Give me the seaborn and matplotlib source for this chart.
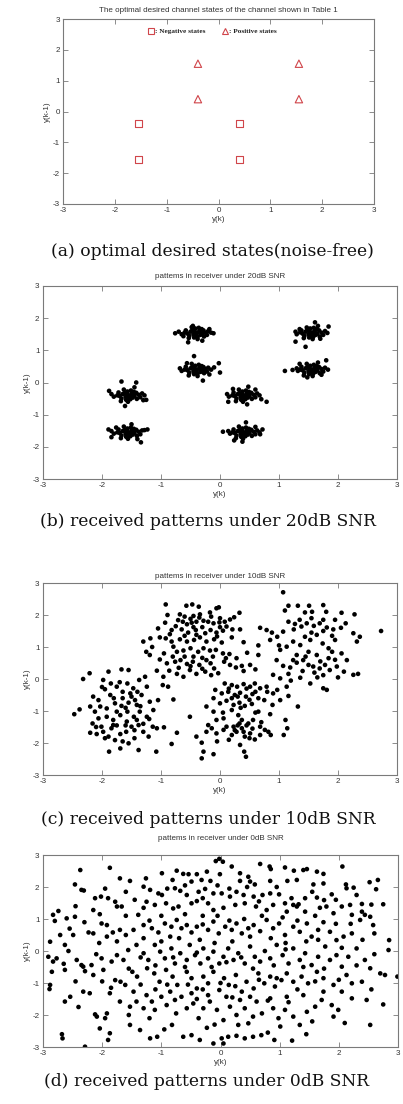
import matplotlib
matplotlib.use("Agg")
import matplotlib.pyplot as plt
import seaborn as sns
import pandas as pd
from matplotlib.lines import Line2D

# ---------------- data ----------------
NEG_STATES_X = [-1.55, -1.55, 0.40, 0.40]
NEG_STATES_Y = [-0.40, -1.55, -0.40, -1.55]
POS_STATES_X = [-0.40, -0.40, 1.55, 1.55]
POS_STATES_Y = [1.55, 0.40, 1.55, 0.40]

TITLES = ["The optimal desired channel states of the channel shown in Table 1",
          "pattems in receiver under 20dB SNR",
          "pattems in receiver under 10dB SNR",
          "pattems in receiver under 0dB SNR"]
CAPTIONS = ["(a) optimal desired states(noise-free)",
            "(b) received patterns under 20dB SNR",
            "(c) received patterns under 10dB SNR",
            "(d) received patterns under 0dB SNR"]
TICKS = [-3, -2, -1, 0, 1, 2, 3]

PTS_20DB = [
(-0.40,1.55),(-0.35,1.60),(-0.45,1.50),(-0.30,1.52),(-0.50,1.58),(-0.42,1.68),(-0.38,1.42),(-0.28,1.62),(-0.55,1.52),(-0.33,1.48),(-0.47,1.62),(-0.25,1.55),(-0.60,1.55),(-0.44,1.40),(-0.36,1.70),(-0.52,1.45),(-0.22,1.48),(-0.31,1.66),(-0.48,1.72),(-0.58,1.62),(-0.20,1.60),(-0.65,1.50),(-0.40,1.47),(-0.43,1.58),(-0.34,1.55),(-0.27,1.43),(-0.53,1.38),(-0.15,1.55),(-0.70,1.58),(-0.38,1.35),(-0.76,1.53),(-0.11,1.53),(-0.54,1.25),(-0.30,1.30),(-0.46,1.76),(-0.18,1.66),(-0.62,1.44),
(-0.40,0.40),(-0.35,0.45),(-0.45,0.35),(-0.30,0.38),(-0.50,0.44),(-0.42,0.52),(-0.38,0.28),(-0.28,0.48),(-0.55,0.38),(-0.33,0.33),(-0.47,0.47),(-0.25,0.42),(-0.60,0.40),(-0.44,0.26),(-0.36,0.55),(-0.52,0.30),(-0.22,0.34),(-0.31,0.51),(-0.48,0.58),(-0.58,0.49),(-0.20,0.46),(-0.65,0.36),(-0.40,0.33),(-0.43,0.43),(-0.34,0.41),(-0.27,0.29),(-0.53,0.22),(-0.15,0.40),(-0.68,0.44),(-0.38,0.20),(-0.02,0.60),(0.00,0.31),(-0.29,0.06),(-0.44,0.82),(-0.10,0.47),(-0.56,0.60),(-0.18,0.25),
(1.55,1.55),(1.60,1.60),(1.50,1.50),(1.65,1.52),(1.45,1.58),(1.53,1.68),(1.58,1.42),(1.68,1.62),(1.40,1.52),(1.62,1.48),(1.48,1.63),(1.72,1.55),(1.36,1.56),(1.51,1.40),(1.59,1.70),(1.43,1.45),(1.75,1.48),(1.64,1.66),(1.47,1.71),(1.38,1.62),(1.78,1.60),(1.30,1.50),(1.56,1.47),(1.52,1.58),(1.61,1.55),(1.69,1.43),(1.42,1.38),(1.82,1.54),(1.28,1.58),(1.57,1.35),(1.61,1.87),(1.84,1.74),(1.45,1.11),(1.28,1.27),(1.66,1.76),(1.35,1.66),(1.70,1.36),
(1.55,0.40),(1.60,0.45),(1.50,0.35),(1.65,0.38),(1.45,0.44),(1.53,0.52),(1.58,0.28),(1.68,0.48),(1.40,0.38),(1.62,0.33),(1.48,0.47),(1.72,0.42),(1.36,0.40),(1.51,0.26),(1.59,0.55),(1.43,0.30),(1.75,0.34),(1.64,0.51),(1.47,0.58),(1.38,0.49),(1.78,0.46),(1.32,0.36),(1.56,0.33),(1.52,0.43),(1.61,0.41),(1.69,0.29),(1.42,0.22),(1.83,0.40),(1.30,0.44),(1.57,0.20),(1.10,0.36),(1.23,0.39),(1.80,0.69),(1.66,0.62),(1.35,0.58),(1.72,0.24),(1.48,0.16),
(-1.55,-0.40),(-1.50,-0.35),(-1.60,-0.45),(-1.45,-0.42),(-1.65,-0.36),(-1.57,-0.28),(-1.52,-0.52),(-1.42,-0.32),(-1.70,-0.42),(-1.48,-0.47),(-1.62,-0.33),(-1.38,-0.38),(-1.74,-0.40),(-1.59,-0.54),(-1.51,-0.25),(-1.67,-0.50),(-1.35,-0.46),(-1.46,-0.29),(-1.63,-0.22),(-1.72,-0.31),(-1.32,-0.34),(-1.80,-0.44),(-1.54,-0.47),(-1.58,-0.37),(-1.49,-0.39),(-1.41,-0.51),(-1.68,-0.58),(-1.28,-0.40),(-1.84,-0.36),(-1.56,-0.60),(-1.67,0.03),(-1.42,0.00),(-1.88,-0.26),(-1.61,-0.73),(-1.25,-0.54),(-1.30,-0.55),(-1.45,-0.15),
(-1.55,-1.55),(-1.50,-1.50),(-1.60,-1.60),(-1.45,-1.57),(-1.65,-1.51),(-1.57,-1.43),(-1.52,-1.67),(-1.42,-1.47),(-1.70,-1.57),(-1.48,-1.62),(-1.62,-1.48),(-1.38,-1.53),(-1.74,-1.55),(-1.59,-1.69),(-1.51,-1.40),(-1.67,-1.65),(-1.35,-1.61),(-1.46,-1.44),(-1.63,-1.37),(-1.72,-1.46),(-1.32,-1.49),(-1.80,-1.59),(-1.54,-1.62),(-1.58,-1.52),(-1.49,-1.54),(-1.41,-1.66),(-1.68,-1.73),(-1.28,-1.48),(-1.84,-1.51),(-1.56,-1.75),(-1.89,-1.46),(-1.34,-1.86),(-1.84,-1.70),(-1.23,-1.46),(-1.50,-1.30),(-1.40,-1.76),(-1.76,-1.40),
(0.40,-0.40),(0.45,-0.35),(0.35,-0.45),(0.50,-0.42),(0.30,-0.36),(0.38,-0.28),(0.43,-0.52),(0.53,-0.32),(0.25,-0.42),(0.47,-0.47),(0.33,-0.33),(0.57,-0.38),(0.21,-0.40),(0.36,-0.54),(0.44,-0.25),(0.28,-0.50),(0.60,-0.46),(0.49,-0.29),(0.32,-0.22),(0.23,-0.31),(0.63,-0.34),(0.15,-0.44),(0.41,-0.47),(0.37,-0.37),(0.46,-0.39),(0.54,-0.51),(0.27,-0.58),(0.67,-0.40),(0.12,-0.36),(0.39,-0.60),(0.79,-0.60),(0.48,-0.13),(0.14,-0.60),(0.46,-0.68),(0.60,-0.22),(0.70,-0.52),(0.22,-0.20),
(0.40,-1.55),(0.45,-1.50),(0.35,-1.60),(0.50,-1.57),(0.30,-1.51),(0.38,-1.43),(0.43,-1.67),(0.53,-1.47),(0.25,-1.57),(0.47,-1.62),(0.33,-1.48),(0.57,-1.53),(0.21,-1.55),(0.36,-1.69),(0.44,-1.40),(0.28,-1.65),(0.60,-1.61),(0.49,-1.44),(0.32,-1.37),(0.23,-1.46),(0.63,-1.49),(0.17,-1.59),(0.41,-1.62),(0.37,-1.52),(0.46,-1.54),(0.54,-1.66),(0.27,-1.73),(0.67,-1.55),(0.14,-1.51),(0.39,-1.75),(0.05,-1.53),(0.68,-1.61),(0.38,-1.84),(0.44,-1.24),(0.60,-1.38),(0.24,-1.80),(0.72,-1.46),
]

PTS_10DB = [
(1.07,2.71),(-0.92,2.33),(-0.57,2.29),(-0.47,2.33),(-0.36,2.26),(-0.06,2.21),(-0.02,2.24),(-0.17,2.08),(0.33,2.07),(-0.89,2.00),(-0.68,2.02),(-0.45,1.97),(-0.34,2.02),(1.16,2.29),(1.32,2.29),(1.51,2.29),(1.75,2.31),(2.06,2.07),(2.28,2.02),(1.44,2.08),(1.56,2.10),(1.80,2.10),(1.10,2.14),(2.73,1.50),
(-0.93,1.76),(-0.71,1.84),(-0.63,1.79),(-0.56,1.71),(-0.48,1.76),(-0.40,1.79),(-0.28,1.82),(-0.20,1.79),(-0.11,1.74),(-0.01,1.77),(0.08,1.79),(0.17,1.86),(0.24,1.93),(0.11,1.64),(0.21,1.55),(0.34,1.55),(-1.05,1.58),(-0.82,1.53),(-0.65,1.55),(-0.54,1.45),(-0.41,1.53),(-0.25,1.43),(-0.16,1.53),(-0.06,1.45),(0.05,1.51),(-1.02,1.30),(-0.92,1.27),(-0.82,1.17),(-0.68,1.24),(-0.56,1.17),(-0.44,1.22),(-0.34,1.30),(-0.23,1.17),(-0.10,1.24),(0.03,1.14),(-1.30,1.17),(-1.18,1.27),(-1.25,0.85),(-1.19,0.75),(-0.79,1.01),(-0.73,0.85),(-0.62,0.89),(-0.50,0.96),(-0.37,0.85),(-0.28,0.96),(-0.17,0.89),(-0.07,0.91),(0.05,0.80),(0.16,0.78),(0.28,0.65),(0.46,0.82),(0.65,0.75),(-1.02,0.61),(-0.90,0.49),(-0.76,0.54),(-0.67,0.59),(-0.56,0.47),(-0.46,0.54),(-0.35,0.44),(-0.23,0.59),(-0.16,0.49),(-0.10,0.33),(-0.03,0.18),(0.07,0.54),(0.17,0.44),(0.27,0.36),(0.37,0.41),(0.51,0.44),(-1.07,0.26),(-0.96,0.07),(-0.86,0.26),(-0.73,0.16),(-0.62,0.07),(-0.51,0.28),(-0.40,0.16),(-0.25,0.23),(-0.97,-0.19),(-0.88,-0.24),(-0.79,-0.64),(-0.51,-1.18),
(-0.60,1.95),(-0.50,1.88),(-0.35,1.92),(-0.15,1.95),(0.00,1.90),(-0.75,1.65),(-0.30,1.62),(-0.45,1.62),(0.00,1.62),(-0.85,1.40),(-0.60,1.35),(-0.40,1.38),(-0.05,1.33),(0.20,1.30),(-0.95,0.80),(-0.80,0.70),(-0.60,0.70),(-0.45,0.70),(-0.30,0.66),(-0.12,0.70),(0.10,0.65),(-0.70,0.35),(-0.50,0.40),(-0.30,0.32),(-0.15,0.12),(0.40,0.25),(0.60,0.30),(0.65,1.05),(0.40,1.15),(-1.15,1.00),
(0.68,1.60),(0.79,1.53),(0.88,1.45),(0.85,1.22),(0.97,1.32),(1.07,1.48),(1.16,1.79),(1.27,1.72),(1.38,1.64),(1.47,1.74),(1.59,1.66),(1.69,1.74),(1.81,1.61),(1.92,1.55),(2.13,1.74),(2.26,1.43),(2.32,1.17),(2.37,1.32),(1.02,0.91),(1.13,1.01),(1.24,1.17),(1.36,1.06),(1.44,1.32),(1.53,1.22),(1.64,1.38),(1.74,1.11),(1.84,0.96),(1.95,1.22),(2.06,0.80),(2.15,0.59),(0.96,0.59),(1.07,0.41),(1.19,0.36),(1.30,0.51),(1.41,0.59),(1.50,0.44),(1.58,0.39),(1.69,0.33),(1.78,0.44),(1.86,0.28),(1.98,0.39),(2.10,0.23),(2.26,0.13),(2.34,0.16),(0.90,0.13),(1.02,0.02),(1.16,0.16),(1.36,0.04),(1.53,-0.14),(1.75,-0.29),(1.81,-0.34),(1.24,0.59),(1.64,0.75),(1.84,0.65),(1.50,0.85),(0.97,-0.34),(1.13,-0.24),(1.16,-0.53),(1.32,-0.86),
(1.35,1.85),(1.55,1.90),(1.75,1.85),(1.95,1.85),(1.25,1.55),(1.55,1.45),(1.75,1.50),(1.90,1.35),(2.05,1.60),(1.30,0.75),(1.45,0.70),(1.70,0.55),(1.95,0.60),(1.40,0.25),(1.60,0.20),(1.75,0.12),(2.00,0.05),(1.20,-0.05),(1.65,0.05),(1.90,0.85),(1.00,1.05),
(-2.47,-1.10),(-2.38,-0.95),(-2.32,0.00),(-2.21,0.18),(-1.98,-0.03),(-1.89,0.23),(-1.67,0.30),(-1.55,0.28),(-2.15,-0.55),(-2.06,-0.66),(-1.95,-0.32),(-1.86,-0.50),(-1.75,-0.24),(-1.65,-0.40),(-1.57,-0.14),(-1.47,-0.29),(-1.37,-0.03),(-1.27,0.07),(-1.24,-0.24),(-1.33,-0.50),(-1.44,-0.66),(-1.55,-0.74),(-1.67,-0.84),(-1.78,-0.76),(-1.92,-0.92),(-2.03,-0.86),(-2.12,-1.02),(-2.16,-1.39),(-2.06,-1.23),(-1.92,-1.18),(-1.81,-1.28),(-1.69,-1.13),(-1.57,-1.02),(-1.46,-1.18),(-1.36,-1.02),(-1.24,-1.18),(-1.13,-0.97),(-1.14,-1.49),(-2.20,-1.68),(-2.09,-1.72),(-1.98,-1.65),(-1.89,-1.80),(-1.78,-1.91),(-1.69,-1.72),(-1.59,-1.65),(-1.50,-1.49),(-1.38,-1.44),(-1.30,-1.65),(-1.21,-1.80),(-1.07,-1.54),(-0.95,-1.51),(-0.73,-1.68),(-0.82,-2.03),(-1.08,-2.27),(-1.38,-2.22),(-1.69,-2.17),(-1.88,-2.27),(-1.55,-2.01),(-1.81,-1.44),(-1.58,-1.33),(-1.41,-1.28),(-2.01,-1.49),(-1.75,-1.02),(-1.65,-0.60),(-1.85,-0.14),(-2.20,-0.86),(-1.19,-0.71),(-1.05,-0.66),(-1.52,-0.45),(-1.41,-0.81),(-1.84,-1.54),
(-1.70,-0.10),(-1.50,-0.55),(-1.40,-0.40),(-1.80,-0.60),(-1.60,-0.90),(-1.35,-0.85),(-2.00,-0.25),(-1.75,-1.45),(-1.60,-1.45),(-1.45,-1.60),(-1.30,-1.40),(-1.65,-1.95),(-1.45,-1.85),(-1.95,-1.85),(-2.10,-1.50),(-1.20,-1.25),
(0.08,-0.14),(0.20,-0.19),(0.29,-0.24),(0.40,-0.16),(0.51,-0.24),(0.59,-0.14),(0.68,-0.29),(0.79,-0.24),(0.90,-0.45),(-0.08,-0.34),(0.03,-0.45),(0.14,-0.40),(0.25,-0.50),(0.34,-0.43),(0.44,-0.55),(0.55,-0.47),(0.65,-0.60),(0.75,-0.66),(-0.11,-0.60),(0.00,-0.76),(0.11,-0.68),(0.23,-0.81),(0.33,-0.74),(0.42,-0.84),(0.54,-0.78),(-0.23,-0.86),(-0.11,-1.02),(0.05,-1.05),(0.20,-0.97),(0.31,-1.13),(0.37,-1.28),(0.48,-1.39),(0.56,-1.28),(0.68,-1.49),(0.82,-1.65),(0.86,-1.75),(1.11,-1.28),(1.14,-1.54),(1.08,-1.75),(-0.40,-1.80),(-0.31,-1.99),(-0.23,-1.65),(-0.14,-1.54),(-0.06,-1.70),(0.06,-1.59),(0.11,-1.49),(0.20,-1.75),(0.28,-1.65),(0.37,-1.54),(0.42,-1.80),(0.51,-1.70),(0.59,-1.89),(0.68,-1.75),(0.76,-1.59),(0.34,-2.06),(0.41,-2.27),(0.44,-2.43),(-0.11,-2.35),(-0.31,-2.48),(-0.28,-2.27),(0.23,-1.49),(0.33,-1.39),(0.40,-1.65),(0.65,-1.02),(0.06,-1.23),(-0.06,-1.28),(-0.20,-1.44),(0.89,-0.81),(1.02,-0.66),
(0.15,-0.30),(0.30,-0.55),(0.45,-0.30),(0.60,-0.40),(0.20,-0.60),(0.35,-0.90),(0.50,-0.65),(0.80,-0.40),(0.30,-1.45),(0.45,-1.45),(0.55,-1.55),(0.25,-1.60),(0.50,-1.85),(0.15,-1.90),(0.70,-1.35),(-0.05,-1.95),(0.60,-1.05),(0.85,-1.10),
]

PTS_0DB = [
(-0.02,2.88),(-0.08,2.81),(0.04,2.79),(-2.37,2.53),(-1.87,2.60),(0.19,2.64),(0.67,2.72),(0.83,2.64),(0.85,2.56),(1.09,2.61),(1.24,2.51),(1.40,2.53),(1.46,2.56),(1.63,2.48),(1.74,2.41),(2.06,2.64),(-0.23,2.48),(-0.63,2.41),(-0.54,2.40),(-0.40,2.40),(-0.01,2.40),(0.33,2.43),(0.47,2.32),(-0.99,2.43),(-0.74,2.51),(-1.26,2.27),(-1.70,2.27),(-1.53,2.19),(-2.46,2.08),(-2.35,1.91),(-2.31,1.89),(-0.81,2.22),(-0.49,2.17),(-0.32,2.22),(-0.17,2.19),(0.33,2.19),(0.50,2.17),(0.58,2.08),(0.84,2.19),(1.13,2.19),(1.29,2.22),(1.57,2.08),(1.74,2.11),(2.12,2.08),(2.25,1.98),(2.52,2.15),(2.66,2.22),(2.63,1.93),(1.88,1.77),(2.13,1.96),
(-2.12,1.65),(-2.02,1.70),(-1.90,1.65),(-1.78,1.54),(-2.15,1.28),(-2.04,1.15),(-1.75,1.39),(-1.67,1.39),(-2.83,1.13),(-2.74,1.25),(-2.80,0.94),(-2.60,1.02),(-2.46,1.07),(-1.30,2.01),(-1.19,1.91),(-1.05,1.80),(-0.99,1.75),(-0.68,1.88),(-0.77,1.96),(-0.57,1.75),(-0.37,1.85),(-0.26,1.94),(-0.12,1.80),(0.02,1.80),(0.16,1.70),(0.27,1.85),(0.39,1.75),(0.56,1.70),(0.71,1.75),(0.84,1.80),(0.99,1.77),(1.09,1.49),(1.23,1.44),(1.32,1.46),(1.43,1.65),(1.63,1.67),(1.75,1.59),(1.79,1.39),(2.19,1.44),(2.39,1.47),(2.75,1.46),(-1.25,1.54),(-1.11,1.44),(-0.92,1.49),(-0.80,1.33),(-0.71,1.39),(-0.49,1.49),(-0.40,1.56),(-0.21,1.49),(-0.12,1.28),(0.05,1.35),(0.25,1.44),(0.41,1.49),(0.60,1.39),(0.78,1.28),(0.89,1.44),(1.12,1.23),(1.29,1.39),(1.43,1.23),(1.68,1.35),(1.91,1.18),(2.05,1.39),(2.22,1.13),(2.39,1.23),(2.53,1.07),
(-2.01,0.86),(-1.92,0.81),(-2.15,0.55),(-2.23,0.58),(-1.92,0.45),(-1.82,0.58),(-1.70,0.66),(-1.60,0.50),(-1.47,0.66),(-1.39,1.13),(-1.30,0.81),(-1.16,0.71),(-1.05,0.58),(-0.94,0.86),(-0.83,0.76),(-0.74,0.97),(-0.66,0.71),(-0.57,0.81),(-0.49,0.58),(-0.40,0.76),(-0.30,0.83),(-0.21,0.66),(-0.12,0.92),(-0.03,0.55),(0.08,0.76),(0.19,0.66),(0.27,0.86),(0.36,0.55),(0.47,0.71),(0.56,0.81),(0.67,0.62),(0.78,0.97),(0.89,0.71),(0.99,0.86),(1.09,0.50),(1.23,0.76),(1.34,0.60),(1.46,0.86),(1.54,0.45),(1.65,0.66),(1.74,0.90),(1.85,0.60),(1.96,0.34),(2.08,0.45),(2.22,0.55),(2.36,0.97),(2.44,1.13),(2.58,0.81),(2.85,0.34),(2.84,0.03),(-2.71,0.50),(-2.88,0.29),(-2.63,0.19),(-2.49,0.50),
(-2.91,-0.18),(-2.83,-0.33),(-2.77,-0.23),(-2.85,-0.65),(-2.57,0.00),(-2.43,-0.28),(-2.35,-0.44),(-2.18,-0.44),(-2.01,-0.23),(-1.98,-0.59),(-1.84,-0.33),(-1.75,-0.13),(-1.64,-0.28),(-1.56,0.03),(-1.42,0.19),(-1.30,-0.07),(-1.22,-0.28),(-1.11,0.19),(-1.02,-0.02),(-0.94,-0.23),(-0.83,0.08),(-0.77,-0.39),(-0.68,-0.07),(-0.57,-0.28),(-0.52,0.19),(-0.43,-0.13),(-0.34,-0.39),(-0.29,0.08),(-0.21,-0.23),(-0.12,-0.02),(-0.02,-0.39),(0.05,-0.18),(0.13,0.08),(0.22,-0.28),(0.30,-0.07),(0.41,-0.39),(0.50,0.14),(0.58,-0.18),(0.67,-0.33),(0.75,0.00),(0.84,-0.23),(0.95,0.19),(1.05,-0.13),(1.15,-0.39),(1.23,0.08),(1.34,-0.28),(1.43,-0.07),(1.54,-0.44),(1.65,-0.18),(1.77,0.14),(1.85,-0.28),(1.96,-0.13),(2.05,-0.49),(2.16,-0.18),(2.30,0.08),(2.44,-0.28),(2.53,-0.54),(2.70,-0.70),(2.78,-0.75),(2.99,-0.80),(-2.88,-1.06),(-2.89,-1.19),
(-2.63,-0.59),(-2.32,-0.49),(-2.29,-0.63),(-2.15,-0.75),(-1.78,-0.91),(-1.69,-0.96),(-1.61,-1.06),(-1.49,-0.65),(-1.41,-0.80),(-1.24,-0.54),(-1.12,-0.70),(-1.03,-0.96),(-0.92,-0.59),(-0.81,-0.80),(-0.73,-1.06),(-0.57,-0.65),(-0.49,-0.85),(-0.40,-1.17),(-0.29,-0.80),(-0.21,-1.01),(-0.12,-0.65),(-0.02,-1.22),(0.06,-0.85),(0.14,-1.06),(0.26,-0.75),(0.36,-1.27),(0.44,-0.96),(0.56,-1.17),(0.64,-0.70),(0.74,-1.01),(0.84,-0.80),(0.92,-1.11),(1.03,-0.91),(1.12,-0.70),(1.23,-0.96),(1.37,-0.80),(1.48,-1.01),(1.63,-0.65),(1.74,-0.85),(1.91,-1.06),(2.13,-0.75),(2.22,-1.01),(2.39,-0.96),(-2.32,-1.27),(-2.21,-1.32),(-2.54,-1.43),(-2.63,-1.58),
(-2.12,-1.98),(-2.09,-2.05),(-1.95,-2.10),(-1.92,-1.95),(-2.04,-2.42),(-1.87,-2.57),(-1.90,-2.78),(-2.68,-2.60),(-2.67,-2.73),(-2.29,-2.99),(-1.70,-1.58),(-1.53,-1.74),(-1.42,-1.58),(-1.30,-1.79),(-1.16,-1.58),(-1.11,-1.84),(-1.00,-1.43),(-0.91,-1.69),(-0.77,-1.53),(-0.66,-1.43),(-0.57,-1.79),(-0.46,-1.64),(-0.37,-2.10),(-0.29,-1.79),(-0.18,-1.58),(-0.06,-1.84),(0.05,-2.16),(0.16,-1.74),(0.27,-2.00),(0.33,-1.53),(0.47,-2.26),(0.41,-1.79),(0.61,-1.58),(0.70,-1.95),(0.89,-1.79),(0.98,-2.10),(1.09,-1.84),(1.23,-2.05),(1.34,-2.31),(1.46,-1.90),(1.60,-1.74),(1.71,-1.53),(1.88,-1.69),(1.99,-1.84),(1.91,-2.05),(2.22,-1.48),(2.47,-1.53),(2.53,-2.31),(2.75,-1.67),(-1.53,-2.31),(-1.36,-2.47),(-1.19,-2.73),(-1.07,-2.68),(-0.82,-2.31),(-0.63,-2.68),(-0.49,-2.63),(-0.35,-2.78),(-0.12,-2.89),(0.05,-2.89),(0.02,-2.73),(0.13,-2.68),(0.27,-2.65),(0.41,-2.73),(0.55,-2.68),(0.69,-2.63),(0.91,-2.78),(1.21,-2.80),(1.01,-2.36),(-0.23,-2.40),(0.30,-2.31),
(-1.87,-1.32),(-1.47,-1.27),(-1.25,-1.38),(-0.85,-1.27),(-0.49,-1.32),(-0.21,-1.38),(0.10,-1.43),(0.50,-1.43),(0.84,-1.48),(1.12,-1.43),(1.40,-1.38),(1.74,-1.27),(2.05,-1.27),
(-1.95,1.95),(-1.60,1.85),(-1.45,1.60),(-1.30,1.35),(-1.00,1.10),(-0.90,1.95),(-0.60,2.05),(-0.30,1.65),(-0.05,2.05),(0.15,1.95),(0.45,2.00),(0.65,1.55),(0.95,2.00),(1.20,1.65),(1.55,1.85),(1.95,1.60),(2.30,1.75),(2.55,1.45),(-2.45,1.40),(-2.30,0.90),(-1.60,1.10),(-1.20,0.95),(-0.85,0.45),(-0.60,1.15),(-0.30,1.10),(-0.05,1.10),(0.15,0.95),(0.40,1.00),(0.70,1.10),(1.05,1.05),(1.30,0.95),(1.60,1.10),(1.95,0.85),(2.20,0.85),(2.60,0.55),
(-2.55,0.70),(-2.05,0.25),(-1.75,0.30),(-1.30,0.40),(-1.00,0.30),(-0.70,0.40),(-0.35,0.35),(-0.10,0.25),(0.20,0.30),(0.50,0.45),(0.85,0.40),(1.10,0.25),(1.45,0.30),(1.65,0.35),(2.05,0.10),(2.40,0.35),(-2.65,-0.40),(-2.10,-0.10),(-1.55,-0.55),(-1.35,-0.20),(-1.10,-0.45),(-0.80,-0.20),(-0.60,-0.50),(-0.40,-0.05),(-0.15,-0.50),(0.10,-0.35),(0.35,-0.20),(0.55,-0.55),(0.90,-0.45),(1.10,0.05),(1.40,-0.50),(1.75,-0.55),(2.30,-0.45),(2.60,-0.10),
(-2.45,-0.95),(-2.00,-0.95),(-1.85,-1.15),(-1.35,-1.05),(-1.10,-1.20),(-0.90,-1.05),(-0.55,-1.05),(-0.30,-1.20),(0.00,-1.00),(0.25,-1.10),(0.65,-0.90),(0.95,-0.85),(1.30,-1.20),(1.60,-0.95),(2.00,-0.90),(2.55,-1.20),(-2.40,-1.75),(-1.55,-2.00),(-1.20,-2.10),(-0.75,-1.95),(-0.40,-1.50),(-0.10,-2.30),(0.20,-1.45),(0.55,-2.05),(0.80,-1.55),(1.15,-1.60),(1.55,-2.20),(2.10,-2.25),(-0.95,-2.45),(0.80,-2.55),(1.45,-2.60),
]

# ---------------- figure ----------------
W, H = 403, 1104
sns.set_theme(style="white")
plt.rcParams['font.family'] = ['Liberation Sans', 'DejaVu Sans']
plt.rcParams['axes.unicode_minus'] = False

fig = plt.figure(figsize=(W / 100, H / 100), dpi=100)

def rect(l, r, t, b):
    return [l / W, 1 - b / H, (r - l) / W, (b - t) / H]

boxes = [rect(63.3, 374, 19, 204), rect(43, 397, 286, 479),
         rect(43, 397, 583, 775), rect(43, 398, 855, 1047)]
title_y = [11, 277, 576, 838]
cap_y = [252, 521, 820, 1082]
cap_x = [212, 208, 208, 207]

FRAME = "#7a7a7a"

def style_axes(ax, title, ty):
    ax.set_xlim(-3, 3)
    ax.set_ylim(-3, 3)
    ax.set_xticks(TICKS)
    ax.set_yticks(TICKS)
    ax.tick_params(direction='in', length=3.5, width=0.6, color=FRAME,
                   labelsize=5.8, labelcolor="#333333", top=True, right=True,
                   bottom=True, left=True, pad=2.5)
    for s in ax.spines.values():
        s.set_color(FRAME)
        s.set_linewidth(0.8)
    ax.set_xlabel("y(k)", fontsize=5.8, color="#333333", labelpad=1)
    ax.set_ylabel("y(k-1)", fontsize=5.8, color="#333333", labelpad=1)
    pos = ax.get_position()
    fig.text((pos.x0 + pos.x1) / 2, 1 - ty / H, title,
             ha='center', va='center', fontsize=5.8, color="#333333")

axes = [fig.add_axes(b) for b in boxes]

# (a) noise-free states
ax = axes[0]
neg_df = pd.DataFrame({"x": NEG_STATES_X, "y": NEG_STATES_Y})
pos_df = pd.DataFrame({"x": POS_STATES_X, "y": POS_STATES_Y})
RED = "#d0454a"
sns.scatterplot(data=neg_df, x="x", y="y", ax=ax, marker="s", s=24,
                facecolors="none", edgecolor=RED, linewidth=0.8)
sns.scatterplot(data=pos_df, x="x", y="y", ax=ax, marker="^", s=28,
                facecolors="none", edgecolor=RED, linewidth=0.8)
handles = [Line2D([], [], marker="s", ls="none", mfc="none", mec=RED, ms=4.2, mew=0.8),
           Line2D([], [], marker="^", ls="none", mfc="none", mec=RED, ms=4.6, mew=0.8)]
ax.legend(handles, [": Negative states", ": Positive states"], ncol=2, frameon=False,
          loc="upper center", bbox_to_anchor=(0.48, 0.985), handletextpad=0.05,
          columnspacing=2.2, handlelength=1.0,
          prop={"family": "Liberation Serif", "size": 5.2, "weight": "bold"})

# (b)-(d) received patterns
for ax, pts in zip(axes[1:], [PTS_20DB, PTS_10DB, PTS_0DB]):
    df = pd.DataFrame(pts, columns=["x", "y"])
    sns.scatterplot(data=df, x="x", y="y", ax=ax, s=11, color="black",
                    edgecolor="none", linewidth=0)

for ax, t, ty in zip(axes, TITLES, title_y):
    style_axes(ax, t, ty)

for c, cy, cx in zip(CAPTIONS, cap_y, cap_x):
    fig.text(cx / W, 1 - cy / H, c, ha='center', va='center',
             fontsize=12.3, family=['DejaVu Serif'], color="#111111")

fig.savefig("out.png", dpi=100)
